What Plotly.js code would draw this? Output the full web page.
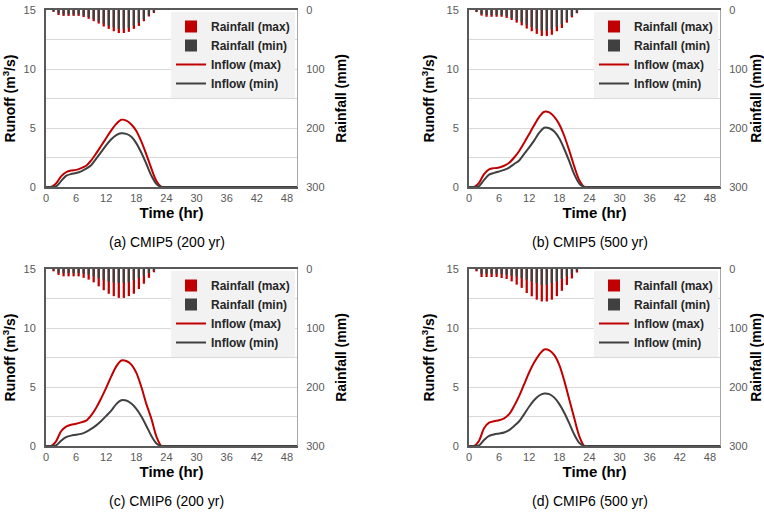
<!DOCTYPE html>
<html>
<head>
<meta charset="utf-8">
<script src="https://cdn.plot.ly/plotly-3.0.1.min.js"></script>
<style>
  html, body { margin: 0; padding: 0; background: #ffffff; }
  #chart { width: 764px; height: 514px; }
</style>
</head>
<body>
<div id="chart"></div>
<script>
// Hourly time axis for the inflow hydrographs (hr)
const hours = [0,1,2,3,4,5,6,7,8,9,10,11,12,13,14,15,16,17,18,19,20,21,22,23,24,25,26,27,28,29,30,31,32,33,34,35,36,37,38,39,40,41,42,43,44,45,46,47,48,49,50];

// Rainfall is plotted at the middle of each hourly interval
const rainHours = [1.5,2.5,3.5,4.5,5.5,6.5,7.5,8.5,9.5,10.5,11.5,12.5,13.5,14.5,15.5,16.5,17.5,18.5,19.5,20.5,21.5];

// Hourly rainfall (mm)
const rainMaxA = [3,8.5,10,10,10,10,12,15,19,23,28,32,36,39,39,37,32,27,19,11,5];
const rainMinA = [2.5,5.5,7.5,7.5,7.5,7.5,9.5,12,15.5,19,23,26.5,29.5,32,32,30.5,26.5,22,15.5,9,4];
const rainMaxB = [3.5,9.5,11.5,11.5,11.5,11.5,13.5,17,21.5,26,31.5,36,40.5,44,44,42,36,30.5,21.5,12.5,5.5];
const rainMinB = [2.5,7,8.5,8.5,8.5,8.5,10.5,13.5,17,20.5,25,28.5,32,35,35,33,28.5,24,17,10,4.5];
const rainMaxC = [4,10,12.4,12.4,12.4,12.4,15,18,22.6,29.4,36,42,46,49,49,46,42,34,25,15,5.6];
const rainMinC = [2,6.5,6.8,6.8,6.8,6.8,7.9,9.6,12.4,15.3,18,21,22.6,23.7,23.7,22.6,19.2,15.3,11.3,6.8,2.8];
const rainMaxD = [4,13.6,13.6,13.6,13.6,15.3,17,21,26.5,32,40.7,46.3,52,55,55,52,46,37,27,16,6];
const rainMinD = [2,8,8,8,8,8.5,9.6,11.3,12.4,15.3,18,21,23.7,26.5,26.5,24,21,17,12.4,8,3];

// Inflow hydrographs (m3/s)
const inflowMaxA = [0,0,0.3,0.9,1.25,1.4,1.45,1.6,1.8,2.25,2.85,3.5,4.15,4.8,5.35,5.7,5.62,5.3,4.75,3.85,2.75,1.55,0.5,0,0,0,0,0,0,0,0,0,0,0,0,0,0,0,0,0,0,0,0,0,0,0,0,0,0,0,0];
const inflowMinA = [0,0,0.05,0.5,0.95,1.1,1.18,1.32,1.55,1.85,2.4,2.97,3.55,4.05,4.4,4.55,4.5,4.25,3.7,2.9,1.95,0.95,0.25,0,0,0,0,0,0,0,0,0,0,0,0,0,0,0,0,0,0,0,0,0,0,0,0,0,0,0,0];
const inflowMaxB = [0,0,0.35,1.1,1.5,1.6,1.65,1.8,2.05,2.5,3.05,3.75,4.5,5.25,5.95,6.38,6.32,5.95,5.3,4.3,3.05,1.7,0.55,0,0,0,0,0,0,0,0,0,0,0,0,0,0,0,0,0,0,0,0,0,0,0,0,0,0,0,0];
const inflowMinB = [0,0,0.08,0.6,1.05,1.2,1.32,1.45,1.65,1.95,2.25,2.8,3.35,3.95,4.6,5.02,4.98,4.7,4.1,3.2,2.15,1.05,0.28,0,0,0,0,0,0,0,0,0,0,0,0,0,0,0,0,0,0,0,0,0,0,0,0,0,0,0,0];
const inflowMaxC = [0,0,0.4,1.25,1.65,1.8,1.88,2.0,2.15,2.6,3.25,4.05,4.95,5.9,6.75,7.25,7.2,6.9,6.2,5.0,3.55,2.3,0.8,0,0,0,0,0,0,0,0,0,0,0,0,0,0,0,0,0,0,0,0,0,0,0,0,0,0,0,0];
const inflowMinC = [0,0,0.05,0.45,0.75,0.88,0.95,1.03,1.2,1.45,1.75,2.12,2.55,3.0,3.55,3.88,3.85,3.6,3.15,2.5,1.7,0.85,0.22,0,0,0,0,0,0,0,0,0,0,0,0,0,0,0,0,0,0,0,0,0,0,0,0,0,0,0,0];
const inflowMaxD = [0,0,0.45,1.5,1.98,2.1,2.18,2.35,2.7,3.4,4.25,5.25,6.25,7.1,7.75,8.18,8.1,7.7,6.85,5.5,3.9,2.3,0.8,0,0,0,0,0,0,0,0,0,0,0,0,0,0,0,0,0,0,0,0,0,0,0,0,0,0,0,0];
const inflowMinD = [0,0,0.05,0.5,0.85,0.98,1.06,1.15,1.35,1.7,2.1,2.7,3.35,3.9,4.28,4.45,4.4,4.1,3.55,2.8,1.9,0.95,0.25,0,0,0,0,0,0,0,0,0,0,0,0,0,0,0,0,0,0,0,0,0,0,0,0,0,0,0,0];

const timeTicks = [0,6,12,18,24,30,36,42,48];
const runoffTicks = [0,5,10,15];
const rainTicks = [0,100,200,300];
const captions = ['(a) CMIP5 (200 yr)', '(b) CMIP5 (500 yr)', '(c) CMIP6 (200 yr)', '(d) CMIP6 (500 yr)'];
const seriesNames = ['Rainfall (max)', 'Rainfall (min)', 'Inflow (max)', 'Inflow (min)'];

const panels = [
  {rainMax: rainMaxA, rainMin: rainMinA, inMax: inflowMaxA, inMin: inflowMinA},
  {rainMax: rainMaxB, rainMin: rainMinB, inMax: inflowMaxB, inMin: inflowMinB},
  {rainMax: rainMaxC, rainMin: rainMinC, inMax: inflowMaxC, inMin: inflowMinC},
  {rainMax: rainMaxD, rainMin: rainMinD, inMax: inflowMaxD, inMin: inflowMinD}
];

const RED = '#c00000';
const DARK = '#404040';
const W = 764, H = 514;

// Pixel boxes of the four plot areas
const boxes = [
  {x0: 46,  x1: 297, y0: 10,  y1: 187},
  {x0: 469, x1: 720, y0: 10,  y1: 187},
  {x0: 46,  x1: 297, y0: 269, y1: 446},
  {x0: 469, x1: 720, y0: 269, y1: 446}
];

const tickFont = {family: 'Liberation Sans, Arial, sans-serif', size: 11, color: '#595959'};
const titleFont = {family: 'Liberation Sans, Arial, sans-serif', size: 14, color: '#000000', weight: 'bold'};

const data = [];
const layout = {
  width: W, height: H,
  margin: {l: 0, r: 0, t: 0, b: 0},
  paper_bgcolor: '#ffffff',
  plot_bgcolor: '#ffffff',
  barmode: 'overlay',
  showlegend: true,
  annotations: []
};

panels.forEach((p, i) => {
  const n = i + 1;
  const xName = n === 1 ? 'x' : 'x' + n;
  const yPri = 2 * i + 1, ySec = 2 * i + 2;
  const yPriName = yPri === 1 ? 'y' : 'y' + yPri;
  const ySecName = 'y' + ySec;
  const legName = n === 1 ? 'legend' : 'legend' + n;
  const b = boxes[i];
  const xd = [b.x0 / W, b.x1 / W];
  const yd = [1 - b.y1 / H, 1 - b.y0 / H];

  data.push({
    type: 'bar', x: rainHours, y: p.rainMax, name: seriesNames[0],
    xaxis: xName, yaxis: ySecName, legend: legName,
    marker: {color: RED}, width: 0.45
  });
  data.push({
    type: 'bar', x: rainHours, y: p.rainMin, name: seriesNames[1],
    xaxis: xName, yaxis: ySecName, legend: legName,
    marker: {color: DARK}, width: 0.45
  });
  data.push({
    type: 'scatter', mode: 'lines', x: hours, y: p.inMax, name: seriesNames[2],
    xaxis: xName, yaxis: yPriName, legend: legName,
    line: {color: RED, width: 2, shape: 'spline', smoothing: 0.8}
  });
  data.push({
    type: 'scatter', mode: 'lines', x: hours, y: p.inMin, name: seriesNames[3],
    xaxis: xName, yaxis: yPriName, legend: legName,
    line: {color: DARK, width: 2, shape: 'spline', smoothing: 0.8}
  });

  layout['xaxis' + (n === 1 ? '' : n)] = {
    domain: xd, anchor: yPriName, range: [0, 50],
    tickmode: 'array', tickvals: timeTicks, ticks: '',
    tickfont: tickFont, showgrid: false, zeroline: false,
    showline: true, linecolor: '#595959', linewidth: 2, mirror: true,
    title: {text: 'Time (hr)', font: {...titleFont, size: 15}, standoff: 4}
  };
  layout['yaxis' + (yPri === 1 ? '' : yPri)] = {
    domain: yd, anchor: xName, range: [0, 15],
    tickmode: 'array', tickvals: runoffTicks, ticks: '',
    tickfont: tickFont, ticklabelstandoff: 6,
    showgrid: true, gridcolor: '#d9d9d9', gridwidth: 1,
    minor: {dtick: 2.5, showgrid: true, gridcolor: '#d9d9d9', gridwidth: 1},
    zeroline: false, showline: true, linecolor: '#595959', linewidth: 2,
    title: {text: 'Runoff (m<sup>3</sup>/s)', font: titleFont, standoff: 9}
  };
  layout['yaxis' + ySec] = {
    overlaying: yPriName, anchor: xName, side: 'right', range: [300, 0],
    tickmode: 'array', tickvals: rainTicks, ticks: '',
    tickfont: tickFont, ticklabelstandoff: 6,
    showgrid: false, zeroline: false,
    showline: true, linecolor: '#a6a6a6', linewidth: 1,
    title: {text: 'Rainfall (mm)', font: titleFont, standoff: 12}
  };
  layout[legName] = {
    x: (b.x1 - 2) / W, y: 1 - (b.y0 + 2) / H, xanchor: 'right', yanchor: 'top',
    bgcolor: '#f2f2f2', borderwidth: 0,
    font: {family: 'Liberation Sans Narrow, Arial Narrow, sans-serif', size: 12, color: '#262626', weight: 'bold'},
    tracegroupgap: 0, itemwidth: 30
  };
  layout.annotations.push({
    xref: 'paper', yref: 'paper', showarrow: false,
    x: (b.x0 + b.x1) / 2 / W - 5 / W, y: 1 - (b.y1 + 55) / H,
    xanchor: 'center', yanchor: 'middle',
    text: captions[i],
    font: {family: 'Liberation Sans Narrow, Arial Narrow, sans-serif', size: 14, color: '#000000'}
  });
});

Plotly.newPlot('chart', data, layout, {displayModeBar: false, staticPlot: true});
</script>
</body>
</html>
